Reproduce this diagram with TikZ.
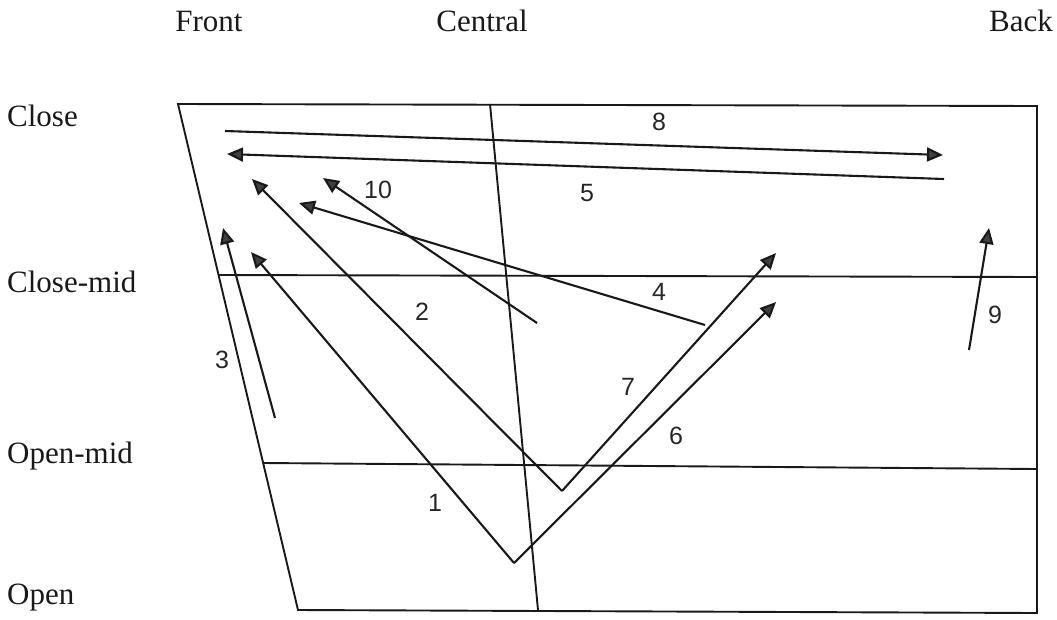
\documentclass[tikz,border=0pt]{standalone}
\usepackage{fontspec}
\setmainfont{Liberation Serif}
\newfontfamily\digitfont{Liberation Sans}
\usetikzlibrary{arrows.meta}
\definecolor{headgray}{HTML}{404040}
\tikzset{
  frameline/.style={line width=1.9pt, black!90},
  vowelarrow/.style={line width=2.1pt, black!90, -{Triangle[length=16pt,width=14pt,fill=headgray]}},
  axislabel/.style={font=\fontsize{31}{31}\selectfont, inner sep=0pt, text=black!90},
  numlabel/.style={font=\digitfont\fontsize{25}{25}\selectfont, inner sep=0pt, text=black!85}
}
\begin{document}
\begin{tikzpicture}[x=1pt,y=-1pt]
\useasboundingbox (0,0) rectangle (1057,619);
% frame corners
\coordinate (TL) at (178,104);
\coordinate (TR) at (1037,106);
\coordinate (BR) at (1037,613);
\coordinate (BL) at (298,610);
\coordinate (CMl) at (218,275);
\coordinate (CMr) at (1037,277);
\coordinate (OMl) at (264,463);
\coordinate (OMr) at (1037,469);
\coordinate (Ct) at (490,104);
\coordinate (Cb) at (538,610);
\draw[frameline] (TL) -- (TR) -- (BR) -- (BL) -- cycle;
\draw[frameline] (CMl) -- (CMr);
\draw[frameline] (OMl) -- (OMr);
\draw[frameline] (Ct) -- (Cb);
% axis labels
\node[axislabel, anchor=base] (front) at (209,31) {Front};
\node[axislabel, anchor=base] (central) at (482,31) {Central};
\node[axislabel, anchor=base] (back) at (1021,31) {Back};
\node[axislabel, anchor=base west] (close) at (7,126) {Close};
\node[axislabel, anchor=base west] (closemid) at (7,292) {Close-mid};
\node[axislabel, anchor=base west] (openmid) at (7,463) {Open-mid};
\node[axislabel, anchor=base west] (open) at (7,604) {Open};
% arrow end points
\coordinate (a8s) at (225,131);
\coordinate (a8e) at (943,155);
\coordinate (a5s) at (944,179);
\coordinate (a5e) at (227,154);
\coordinate (a10s) at (537,323);
\coordinate (a10e) at (323,178);
\coordinate (a4s) at (705,325);
\coordinate (a4e) at (299,203);
\coordinate (v27) at (562,491);
\coordinate (a2e) at (252,179);
\coordinate (a7e) at (776,253);
\coordinate (v16) at (514,563);
\coordinate (a1e) at (251,252);
\coordinate (a6e) at (776,302);
\coordinate (a3s) at (275,418);
\coordinate (a3e) at (223,228);
\coordinate (a9s) at (969,350);
\coordinate (a9e) at (989,228);
% arrows
\draw[vowelarrow] (a8s) -- (a8e);
\draw[vowelarrow] (a5s) -- (a5e);
\draw[vowelarrow] (a10s) -- (a10e);
\draw[vowelarrow] (a4s) -- (a4e);
\draw[vowelarrow] (v27) -- (a2e);
\draw[vowelarrow] (v27) -- (a7e);
\draw[vowelarrow] (v16) -- (a1e);
\draw[vowelarrow] (v16) -- (a6e);
\draw[vowelarrow] (a3s) -- (a3e);
\draw[vowelarrow] (a9s) -- (a9e);
% number labels
\node[numlabel] (n8) at (659,122) {8};
\node[numlabel] (n5) at (587,193) {5};
\node[numlabel] (n10) at (378,190) {10};
\node[numlabel] (n4) at (659,292) {4};
\node[numlabel] (n2) at (422,312) {2};
\node[numlabel] (n9) at (995,315) {9};
\node[numlabel] (n3) at (222,360) {3};
\node[numlabel] (n7) at (628,387) {7};
\node[numlabel] (n6) at (676,436) {6};
\node[numlabel] (n1) at (435,503) {1};
\end{tikzpicture}
\end{document}
